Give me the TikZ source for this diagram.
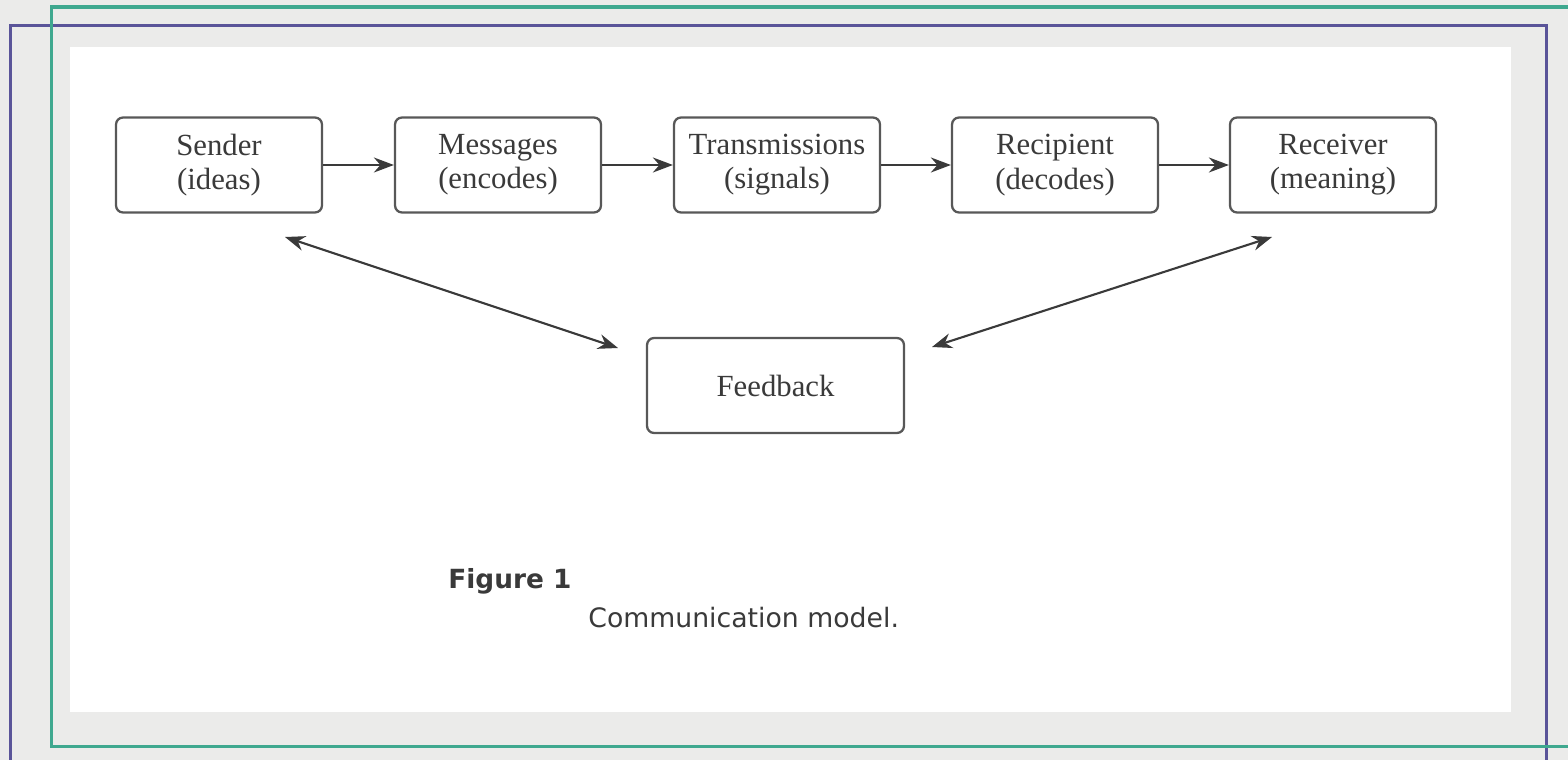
\documentclass[tikz,border=0pt]{standalone}
\usepackage{fontspec}
\setmainfont{Liberation Serif}
\newfontfamily\capfont{DejaVu Sans}
\usepackage{tikz}
\usetikzlibrary{arrows.meta,positioning}
\definecolor{frameteal}{HTML}{3FA88F}
\definecolor{framepurple}{HTML}{5A5499}
\definecolor{bggrey}{HTML}{EBEBEA}
\definecolor{inkgrey}{HTML}{3A3A3A}

\begin{document}
\begin{tikzpicture}
	[
		x=0.02cm, y=-0.02cm,
		B/.style = {rectangle, rounded corners=4pt, draw=inkgrey!85, line width=1.3pt, align=center, minimum width=4.12cm, minimum height=1.9cm, inner sep=0pt, text=inkgrey, font=\fontsize{17.5}{19.5}\selectfont},
		F/.style = {B, minimum width=5.14cm},
		C/.style = {anchor=base west, inner sep=0pt, text=inkgrey},
		A/.style = {-{Stealth[length=0.4cm,width=0.3cm]}, line width=1.2pt, draw=inkgrey},
		AA/.style = {{Stealth[length=0.4cm,width=0.3cm]}-{Stealth[length=0.4cm,width=0.3cm]}, line width=1.2pt, draw=inkgrey},
	]
	\useasboundingbox (0,0) rectangle (1568,760);

	% background and frames
	\fill[bggrey] (0,0) rectangle (1568,760);
	\draw[framepurple, line width=1.8pt] (10.5,770) -- (10.5,25.5) -- (1546.5,25.5) -- (1546.5,770);
	\draw[frameteal, line width=1.8pt] (1580,7) -- (51.5,7) -- (51.5,746.5) -- (1580,746.5);
	\fill[white] (70,47) rectangle (1511,712);

	% chain of boxes
	\node[B] (snd) 	at ( 219, 165 ) {Sender\\(ideas)};
	\node[B] (msg) 	at ( 498, 165 ) {Messages\\(encodes)};
	\node[B] (trn) 	at ( 777, 165 ) {Transmissions\\(signals)};
	\node[B] (rcp) 	at ( 1055, 165 ) {Recipient\\(decodes)};
	\node[B] (rcv) 	at ( 1333, 165 ) {Receiver\\(meaning)};

	% feedback box
	\node[F] (fb) 	at ( 775.5, 385.5 ) {Feedback};

	% free ends of the feedback arrows
	\coordinate (sndend) at ( 285, 237 );
	\coordinate (fbl) at ( 618, 348 );
	\coordinate (fbr) at ( 932, 347 );
	\coordinate (rcvend) at ( 1272, 237 );

	\foreach \from/\to in {snd/msg,msg/trn,trn/rcp,rcp/rcv}
	\draw[A] (\from) -- (\to);

	\draw[AA] (sndend) -- (fbl);
	\draw[AA] (fbr) -- (rcvend);

	% caption
	\node[C, font=\capfont\bfseries\fontsize{15}{18}\selectfont] (fig) at ( 448, 588 ) {Figure 1};
	\node[C, font=\capfont\fontsize{15.2}{18}\selectfont] (cap) at ( 588, 627 ) {Communication model.};

\end{tikzpicture}
\end{document}
